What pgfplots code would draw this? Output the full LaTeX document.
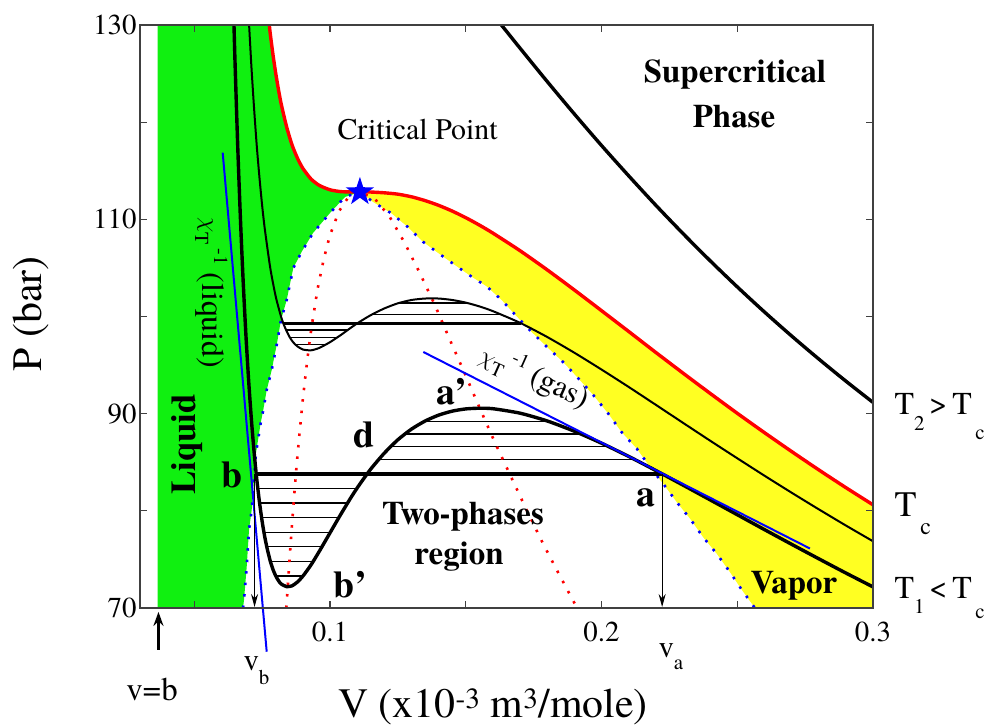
\documentclass[border=0pt]{standalone}
\usepackage{fontspec}
\setmainfont{texgyretermes}[Extension=.otf, UprightFont=*-regular, BoldFont=*-bold, ItalicFont=*-italic, BoldItalicFont=*-bolditalic]
\usepackage{pgfplots}
\pgfplotsset{compat=1.18}
\usetikzlibrary{arrows.meta}
\definecolor{lgreen}{RGB}{16,240,16}
\definecolor{lyellow}{RGB}{255,255,34}
\newcommand\fs[1]{\fontsize{#1}{#1}\selectfont}
\newcommand\lowr[3]{\raisebox{#1}{\fs{#2}#3}}
\pgfdeclareplotmark{bstar}{%
 \pgfpathmoveto{\pgfqpoint{0bp}{15bp}}%
 \pgfpathlineto{\pgfqpoint{-3.41bp}{4.69bp}}%
 \pgfpathlineto{\pgfqpoint{-14.27bp}{4.64bp}}%
 \pgfpathlineto{\pgfqpoint{-5.52bp}{-1.79bp}}%
 \pgfpathlineto{\pgfqpoint{-8.82bp}{-12.14bp}}%
 \pgfpathlineto{\pgfqpoint{0bp}{-5.8bp}}%
 \pgfpathlineto{\pgfqpoint{8.82bp}{-12.14bp}}%
 \pgfpathlineto{\pgfqpoint{5.52bp}{-1.79bp}}%
 \pgfpathlineto{\pgfqpoint{14.27bp}{4.64bp}}%
 \pgfpathlineto{\pgfqpoint{3.41bp}{4.69bp}}%
 \pgfpathclose\pgfusepathqfill}
\begin{document}
\begin{tikzpicture}
\path[use as bounding box] (-140bp,-118bp) rectangle (847bp,608bp);
\begin{axis}[
  width=733bp, height=583bp, scale only axis,
  xmin=0.03, xmax=0.3, ymin=70, ymax=130,
  xtick={0.1,0.2,0.3}, xticklabels={0.1,0.2,0.3},
  minor xtick={0.05,0.15,0.25},
  ytick={70,90,110,130}, yticklabels={70,90,110,130},
  minor ytick={80,100,120},
  tick align=inside, major tick length=7bp, minor tick length=7bp,
  axis line style={draw=black!75, line width=1.3bp},
  every tick/.style={black!75, line width=1.1bp},
  ticklabel style={font=\fs{29}},
  xticklabel style={yshift=-10bp},
  axis on top, clip=false,
]
% regions
\addplot[fill=lgreen, draw=none] coordinates {
(0.0365,70) (0.0365,130) (0.07763,130) (0.078,129.06) (0.079,126.91) (0.080,125.02) (0.081,123.36) (0.082,121.89) (0.084,119.52) (0.086,117.66) (0.088,116.29) (0.090,115.24) (0.093,114.15) (0.096,113.50) (0.100,113.04) (0.104,112.85) (0.108,112.82) (0.111,112.82)
(0.10551,112.30) (0.09998,110.65) (0.09372,108.59) (0.08956,106.67) (0.08646,104.99) (0.08403,101.70) (0.08193,99.64) (0.08035,97.07) (0.07851,94.49) (0.07667,92.43) (0.07541,90.38) (0.07446,89.04) (0.07273,85.95) (0.07114,80.09) (0.07015,78.03) (0.06930,74.22) (0.06831,70.82) (0.06794,70.00)} -- cycle;
\addplot[fill=lyellow, draw=none] coordinates {
(0.111,112.82) (0.115,112.81) (0.120,112.73) (0.125,112.59) (0.130,112.32) (0.135,111.93) (0.140,111.44) (0.145,110.85) (0.150,110.17) (0.155,109.41) (0.160,108.58) (0.170,106.77) (0.180,104.80) (0.190,102.73) (0.200,100.60) (0.210,98.46) (0.220,96.30) (0.230,94.18) (0.240,92.09) (0.250,90.04) (0.260,88.05) (0.270,86.11) (0.280,84.22) (0.290,82.39) (0.300,80.62)
(0.300,70) (0.2565,70.0) (0.2516,71.9) (0.2473,73.7) (0.2424,75.6) (0.2374,77.3) (0.2326,79.2) (0.2277,80.9) (0.2227,82.8) (0.2179,84.5) (0.2130,86.4) (0.2074,88.1) (0.2025,90.0) (0.1970,91.9) (0.1909,93.8) (0.1859,95.3) (0.1798,96.9) (0.1743,98.4) (0.1688,100.0) (0.1632,101.7) (0.1577,103.1) (0.1516,104.2) (0.1460,105.3) (0.1400,106.5) (0.1342,107.7) (0.1287,109.2) (0.1227,110.6) (0.1158,111.8)} -- cycle;
% hatching (equal areas)
\addplot[black, line width=1.3bp, unbounded coords=jump] coordinates {
(0.07342,82.3) (0.1099,82.3) (0.1,nan)
(0.07405,80.8) (0.10648,80.8) (0.1,nan)
(0.0748,79.3) (0.10325,79.3) (0.1,nan)
(0.07567,77.8) (0.10013,77.8) (0.1,nan)
(0.07671,76.3) (0.09702,76.3) (0.1,nan)
(0.07801,74.8) (0.09379,74.8) (0.1,nan)
(0.0800,73.3) (0.09003,73.3) (0.1,nan)
(0.11805,85.3) (0.21207,85.3) (0.1,nan)
(0.12239,86.6) (0.20265,86.6) (0.1,nan)
(0.12766,87.9) (0.19236,87.9) (0.1,nan)
(0.13476,89.2) (0.18047,89.2) (0.1,nan)
(0.08384,98.6) (0.10647,98.6) (0.1,nan)
(0.0852,97.85) (0.10265,97.85) (0.1,nan)
(0.08728,97.1) (0.09827,97.1) (0.1,nan)
(0.11543,100.2) (0.16292,100.2) (0.1,nan)
(0.12559,101.4) (0.15038,101.4)};
% spinodal
\addplot[red, line width=2.6bp, dash pattern=on 2.5bp off 9bp] coordinates {
(0.0839,70) (0.08436,71.9) (0.08547,76.6) (0.08658,80.8) (0.08769,84.7) (0.0888,88.1) (0.08991,91.3) (0.09102,94.1) (0.09213,96.7) (0.09324,99.0) (0.09546,102.9) (0.09768,105.9) (0.0999,108.3) (0.10323,110.8) (0.10656,112.2) (0.111,112.82)
(0.11655,112.1) (0.1221,110.2) (0.12765,107.5) (0.1332,104.4) (0.13875,101.1) (0.1443,97.5) (0.14985,94.0) (0.1554,90.4) (0.16095,86.9) (0.1665,83.6) (0.17205,80.3) (0.1776,77.1) (0.18315,74.1) (0.1887,71.2) (0.1910,70)};
% binodal
\addplot[blue, line width=2.6bp, dash pattern=on 2.5bp off 9bp] coordinates {
(0.06794,70.00) (0.06831,70.82) (0.06930,74.22) (0.07015,78.03) (0.07114,80.09) (0.07273,85.95) (0.07446,89.04) (0.07541,90.38) (0.07667,92.43) (0.07851,94.49) (0.08035,97.07) (0.08193,99.64) (0.08403,101.70) (0.08646,104.99) (0.08956,106.67) (0.09372,108.59) (0.09998,110.65) (0.10551,112.30) (0.111,112.82)
(0.1158,111.8) (0.1227,110.6) (0.1287,109.2) (0.1342,107.7) (0.1400,106.5) (0.1460,105.3) (0.1516,104.2) (0.1577,103.1) (0.1632,101.7) (0.1688,100.0) (0.1743,98.4) (0.1798,96.9) (0.1859,95.3) (0.1909,93.8) (0.1970,91.9) (0.2025,90.0) (0.2074,88.1) (0.2130,86.4) (0.2179,84.5) (0.2227,82.8) (0.2277,80.9) (0.2326,79.2) (0.2374,77.3) (0.2424,75.6) (0.2473,73.7) (0.2516,71.9) (0.2565,70.0)};
% isotherm T2 > Tc
\addplot[black, line width=3.4bp, smooth] coordinates {
(0.1631,130) (0.165,129.35) (0.170,127.61) (0.180,124.18) (0.190,120.84) (0.200,117.60) (0.210,114.48) (0.220,111.45) (0.230,108.54) (0.240,105.74) (0.250,103.05) (0.260,100.47) (0.270,98.00) (0.280,95.63) (0.290,93.35) (0.300,91.16)};
% intermediate isotherm
\addplot[black, line width=2bp, smooth, tension=0.4] coordinates {
(0.07019,130) (0.071,125.9) (0.072,121.5) (0.073,117.6) (0.074,114.31) (0.075,111.4) (0.076,108.94) (0.078,104.96) (0.080,102.05) (0.082,99.94) (0.083,99.14) (0.084,98.50) (0.085,97.94) (0.086,97.50) (0.087,97.17) (0.088,96.92) (0.090,96.60) (0.093,96.52) (0.096,96.76) (0.100,97.36) (0.104,98.10) (0.108,98.91) (0.111,99.47) (0.115,100.14) (0.120,100.83) (0.125,101.36) (0.130,101.70) (0.135,101.85) (0.140,101.85) (0.145,101.70) (0.150,101.43) (0.155,101.04) (0.160,100.55) (0.170,99.35) (0.180,97.89) (0.190,96.27) (0.200,94.54) (0.210,92.75) (0.220,90.91) (0.230,89.06) (0.240,87.22) (0.250,85.41) (0.260,83.62) (0.270,81.87) (0.280,80.16) (0.290,78.49) (0.300,76.87)};
% isotherm T1 < Tc
\addplot[black, line width=3.4bp, smooth, tension=0.4] coordinates {
(0.06462,130) (0.065,126.19) (0.066,117.50) (0.067,110.03) (0.068,103.63) (0.069,98.17) (0.070,93.49) (0.071,89.52) (0.072,86.14) (0.073,83.29) (0.074,80.91) (0.075,78.90) (0.076,77.25) (0.077,75.92) (0.078,74.81) (0.079,73.95) (0.080,73.30) (0.081,72.82) (0.082,72.47) (0.084,72.20) (0.086,72.28) (0.088,72.68) (0.090,73.28) (0.093,74.44) (0.096,75.81) (0.100,77.74) (0.104,79.66) (0.108,81.50) (0.111,82.76) (0.115,84.30) (0.120,85.94) (0.125,87.32) (0.130,88.41) (0.135,89.24) (0.140,89.85) (0.145,90.26) (0.150,90.49) (0.155,90.56) (0.160,90.51) (0.170,90.05) (0.180,89.25) (0.190,88.19) (0.200,86.96) (0.210,85.60) (0.220,84.15) (0.230,82.65) (0.240,81.13) (0.250,79.60) (0.260,78.07) (0.270,76.56) (0.280,75.07) (0.290,73.60) (0.300,72.17)};
% critical isotherm
\addplot[red, line width=3.4bp, smooth, tension=0.4] coordinates {
(0.07763,130) (0.078,129.06) (0.079,126.91) (0.080,125.02) (0.081,123.36) (0.082,121.89) (0.084,119.52) (0.086,117.66) (0.088,116.29) (0.090,115.24) (0.093,114.15) (0.096,113.50) (0.100,113.04) (0.104,112.85) (0.108,112.82) (0.111,112.82) (0.115,112.81) (0.120,112.73) (0.125,112.59) (0.130,112.32) (0.135,111.93) (0.140,111.44) (0.145,110.85) (0.150,110.17) (0.155,109.41) (0.160,108.58) (0.170,106.77) (0.180,104.80) (0.190,102.73) (0.200,100.60) (0.210,98.46) (0.220,96.30) (0.230,94.18) (0.240,92.09) (0.250,90.04) (0.260,88.05) (0.270,86.11) (0.280,84.22) (0.290,82.39) (0.300,80.62)};
% Maxwell lines
\addplot[black, line width=3.4bp] coordinates {(0.07282,83.8) (0.22233,83.8)};
\addplot[black, line width=2.6bp] coordinates {(0.0828,99.3) (0.17034,99.3)};
% tangents (inverse compressibility)
\addplot[blue, line width=2bp] coordinates {(0.06046,116.86) (0.07667,65.5)};
\addplot[blue, line width=2bp] coordinates {(0.13435,96.35) (0.27678,76.12)};
% arrows
\addplot[black, line width=1bp, -{Stealth[length=13bp,width=7bp]}] coordinates {(0.22233,83.8) (0.22233,70.1)};
\addplot[black, line width=1bp, -{Stealth[length=13bp,width=7bp]}] coordinates {(0.0722,83.8) (0.0722,70.1)};
\addplot[black, line width=3bp, -{Stealth[length=14bp,width=10bp]}] coordinates {(0.0368,65.7) (0.0368,69.6)};
% critical point
\addplot[only marks, mark=bstar, blue] coordinates {(0.111,112.82)};
\end{axis}
% axis titles
\node[rotate=90, anchor=base, font=\fs{42}] at (-98bp,294bp) {P (bar)};
\node[anchor=base, font=\fs{42}] at (353bp,-109bp) {V (x10\textsuperscript{-3} m\textsuperscript{3}/mole)};
% annotations below axis
\node[anchor=base, font=\fs{33}] at (12bp,-92bp) {v=b};
\node[anchor=base west, font=\fs{31}] at (100bp,-62bp) {v\lowr{-14bp}{21}{b}};
\node[anchor=base west, font=\fs{31}] at (515bp,-49bp) {v\lowr{-12bp}{21}{a}};
% temperature labels
\node[anchor=base west, font=\fs{32}] at (751bp,193bp) {T\lowr{-16bp}{21}{2}\hspace{5bp}>\hspace{5bp}T\lowr{-25bp}{21}{\,c}};
\node[anchor=base west, font=\fs{36}] at (751bp,91bp) {T\lowr{-18bp}{24}{\,c}};
\node[anchor=base west, font=\fs{32}] at (751bp,10bp) {T\lowr{-15bp}{21}{1}\hspace{5bp}<\hspace{5bp}T\lowr{-20bp}{21}{\,c}};
% region labels
\node[anchor=base, font=\fs{33}\bfseries] at (595bp,525bp) {Supercritical};
\node[anchor=base, font=\fs{33}\bfseries] at (594bp,480bp) {Phase};
\node[anchor=base west, font=\fs{30}] at (194bp,468bp) {Critical Point};
\node[anchor=base, font=\fs{33}\bfseries] at (323bp,83bp) {Two-phases};
\node[anchor=base, font=\fs{33}\bfseries] at (319bp,43bp) {region};
\node[anchor=base west, rotate=90, font=\fs{35}\bfseries] at (55bp,110bp) {Liquid};
\node[anchor=base west, font=\fs{33}\bfseries] at (607bp,15bp) {Vapor};
\node[anchor=base west, font=\fs{38}\bfseries] at (493bp,101bp) {a};
\node[anchor=base west, font=\fs{38}\bfseries] at (293bp,203bp) {a'};
\node[anchor=base west, font=\fs{38}\bfseries] at (78bp,120bp) {b};
\node[anchor=base west, font=\fs{38}\bfseries] at (190bp,11bp) {b'};
\node[anchor=base west, font=\fs{38}\bfseries] at (210bp,160bp) {d};
\node[anchor=base, rotate=-90, font=\fs{32}] at (62bp,315bp) {$\chi$\lowr{-7bp}{20}{T}\lowr{12bp}{20}{\,-1}\ (liquid)};
\node[anchor=base, rotate=-24, font=\fs{31}] at (391bp,223bp) {$\chi$\lowr{-7bp}{20}{T}\lowr{12bp}{20}{\,-1}\ (gas)};
\end{tikzpicture}
\end{document}
